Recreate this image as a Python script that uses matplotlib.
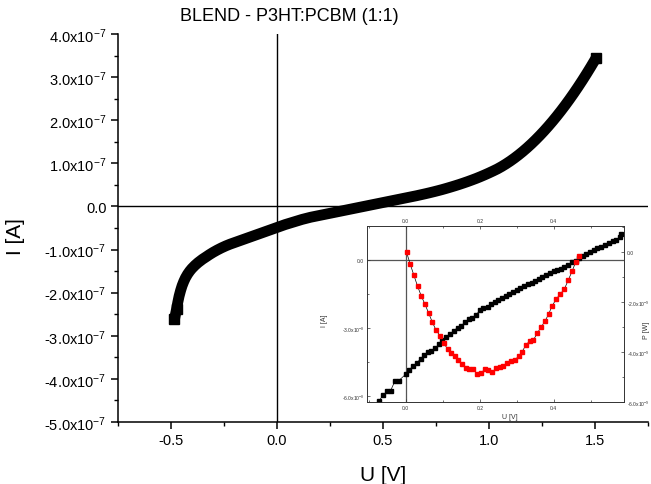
"""
I-V curve of a P3HT:PCBM blend with an inset of the power curve.
"""

import matplotlib
matplotlib.use("Agg")
import matplotlib.pyplot as plt
from matplotlib.ticker import FixedLocator, MultipleLocator

plt.rcParams.update({
    "font.family": ["Liberation Sans", "DejaVu Sans"],
    "mathtext.fontset": "custom",
    "mathtext.rm": "Liberation Sans",
    "mathtext.it": "Liberation Sans:italic",
    "mathtext.bf": "Liberation Sans:bold",
    "axes.linewidth": 1.1,
    "axes.edgecolor": "black",
})

# ─── main curve (U in V, I in units of 1e-7 A) ─────────────────────
U_MAIN = [-0.482, -0.472, -0.466, -0.460, -0.453, -0.446, -0.438, -0.430,
          -0.420, -0.410, -0.400, -0.385, -0.370, -0.350, -0.330, -0.318,
          -0.300, -0.280, -0.260, -0.240, -0.220, -0.200, -0.180, -0.160,
          -0.140, -0.120, -0.100, -0.080, -0.060, -0.040, -0.020, 0.000,
          0.020, 0.040, 0.060, 0.080, 0.100, 0.120, 0.140, 0.160, 0.180,
          0.200, 0.220, 0.240, 0.260, 0.280, 0.300, 0.320, 0.340, 0.360,
          0.380, 0.400, 0.420, 0.440, 0.460, 0.480, 0.500, 0.520, 0.540,
          0.560, 0.580, 0.600, 0.620, 0.640, 0.660, 0.680, 0.700, 0.720,
          0.740, 0.760, 0.780, 0.800, 0.820, 0.840, 0.860, 0.880, 0.900,
          0.920, 0.940, 0.960, 0.980, 1.000, 1.020, 1.040, 1.060, 1.080,
          1.100, 1.120, 1.140, 1.160, 1.180, 1.200, 1.220, 1.240, 1.260,
          1.280, 1.300, 1.320, 1.340, 1.360, 1.380, 1.400, 1.420, 1.440,
          1.460, 1.480, 1.500, 1.505]
I_MAIN = [-2.62, -2.38, -2.22, -2.08, -1.95, -1.84, -1.74, -1.655,
          -1.57, -1.50, -1.44, -1.365, -1.30, -1.225, -1.16, -1.12,
          -1.065, -1.01, -0.96, -0.915, -0.875, -0.84, -0.805, -0.77,
          -0.735, -0.70, -0.665, -0.63, -0.595, -0.56, -0.525, -0.49,
          -0.455, -0.42, -0.39, -0.36, -0.33, -0.30, -0.275, -0.25, -0.23,
          -0.21, -0.19, -0.17, -0.15, -0.13, -0.11, -0.09, -0.07, -0.05,
          -0.03, -0.01, 0.01, 0.03, 0.05, 0.07, 0.09, 0.11, 0.13,
          0.15, 0.17, 0.19, 0.21, 0.23, 0.25, 0.272, 0.294, 0.317,
          0.341, 0.366, 0.392, 0.42, 0.449, 0.479, 0.51, 0.543, 0.577,
          0.613, 0.65, 0.69, 0.732, 0.776, 0.822, 0.87, 0.925, 0.985,
          1.05, 1.12, 1.195, 1.275, 1.36, 1.45, 1.545, 1.645, 1.75,
          1.86, 1.975, 2.095, 2.22, 2.35, 2.485, 2.625, 2.77, 2.92,
          3.075, 3.235, 3.40, 3.44]

Y_TICKS = [-5, -4, -3, -2, -1, 0, 1, 2, 3, 4]
Y_TICK_LABELS = ["-5.0x10$^{-7}$", "-4.0x10$^{-7}$", "-3.0x10$^{-7}$",
                 "-2.0x10$^{-7}$", "-1.0x10$^{-7}$", "0.0",
                 "1.0x10$^{-7}$", "2.0x10$^{-7}$", "3.0x10$^{-7}$",
                 "4.0x10$^{-7}$"]
X_TICKS = [-0.5, 0.0, 0.5, 1.0, 1.5]
X_TICK_LABELS = ["-0.5", "0.0", "0.5", "1.0", "1.5"]

# ─── inset: I (units of 1e-8 A) and P (units of 1e-9 W) ────────────
U_INSET = [-0.072, -0.061, -0.050, -0.041, -0.030, -0.019, 0.000, 0.009,
           0.020, 0.029, 0.040, 0.050, 0.060, 0.069, 0.080, 0.090, 0.099,
           0.110, 0.120, 0.130, 0.140, 0.150, 0.160, 0.170, 0.180, 0.191,
           0.200, 0.210, 0.221, 0.231, 0.241, 0.250, 0.260, 0.270, 0.280,
           0.290, 0.300, 0.310, 0.320, 0.330, 0.340, 0.350, 0.359, 0.369,
           0.379, 0.389, 0.400, 0.409, 0.419, 0.429, 0.439, 0.450, 0.459,
           0.468, 0.478, 0.488, 0.498, 0.508, 0.518, 0.528, 0.538, 0.549,
           0.559, 0.568, 0.578, 0.583]
I_INSET = [-6.19, -5.94, -5.78, -5.75, -5.35, -5.31, -5.03, -4.83,
           -4.68, -4.54, -4.36, -4.18, -4.07, -3.99, -3.89, -3.70, -3.54,
           -3.41, -3.26, -3.12, -2.98, -2.90, -2.75, -2.60, -2.56, -2.43,
           -2.19, -2.14, -2.06, -1.95, -1.84, -1.76, -1.68, -1.61, -1.52,
           -1.43, -1.33, -1.24, -1.14, -1.07, -1.01, -0.92, -0.85, -0.78,
           -0.67, -0.59, -0.48, -0.44, -0.41, -0.32, -0.23, -0.12, -0.04,
           0.06, 0.15, 0.23, 0.32, 0.44, 0.50, 0.56, 0.64, 0.73,
           0.82, 0.88, 0.98, 1.13]

U_POWER = [0.002, 0.012, 0.022, 0.032, 0.042, 0.052, 0.062, 0.072, 0.082,
           0.093, 0.102, 0.113, 0.123, 0.132, 0.142, 0.152, 0.162, 0.172,
           0.182, 0.193, 0.203, 0.214, 0.223, 0.234, 0.244, 0.254, 0.264,
           0.274, 0.285, 0.295, 0.305, 0.314, 0.325, 0.335, 0.345, 0.356,
           0.366, 0.376, 0.386, 0.395, 0.407, 0.418, 0.429, 0.439, 0.450,
           0.459, 0.468]
P_POWER = [0.00, -0.48, -0.93, -1.37, -1.76, -2.09, -2.45, -2.81, -3.13,
           -3.36, -3.64, -3.87, -4.04, -4.17, -4.33, -4.48, -4.64, -4.69,
           -4.67, -4.88, -4.84, -4.69, -4.73, -4.81, -4.64, -4.61, -4.55,
           -4.44, -4.35, -4.31, -4.17, -4.00, -3.71, -3.56, -3.52, -3.23,
           -3.00, -2.77, -2.49, -2.17, -1.87, -1.67, -1.47, -1.13, -0.75,
           -0.41, -0.17]

INSET_X_TICKS = [0.0, 0.2, 0.4]
INSET_X_LABELS = ["0.0", "0.2", "0.4"]
INSET_I_TICKS = [0, -3, -6]
INSET_I_LABELS = ["0.0", "-3.0x10$^{-8}$", "-6.0x10$^{-8}$"]
INSET_P_TICKS = [0, -2, -4, -6]
INSET_P_LABELS = ["0.0", "-2.0x10$^{-9}$", "-4.0x10$^{-9}$",
                  "-6.0x10$^{-9}$"]

fig = plt.figure(figsize=(6.51, 4.85), dpi=100)

# ─── main axes ─────────────────────────────────────────────────────
ax = fig.add_axes([0.1806, 0.1278, 0.8148, 0.8])
i_amps = [i * 1e-7 for i in I_MAIN]
# dense symbols merge into one smooth band; only the ends show squares
ax.plot(U_MAIN, i_amps, color="black", lw=7.8,
        solid_joinstyle="round", solid_capstyle="butt",
        marker="s", markersize=6.6, markevery=[0, 1, len(U_MAIN) - 1],
        zorder=3)
ax.axhline(0, color="black", lw=1.0, zorder=2)
ax.axvline(0, color="black", lw=1.0, zorder=2)

ax.set_xlim(-0.75, 1.75)
ax.set_ylim(-5e-7, 4e-7)
ax.spines["top"].set_visible(False)
ax.spines["right"].set_visible(False)

ax.xaxis.set_major_locator(FixedLocator(X_TICKS))
ax.set_xticklabels(X_TICK_LABELS)
ax.xaxis.set_minor_locator(MultipleLocator(0.25))
ax.yaxis.set_major_locator(FixedLocator([t * 1e-7 for t in Y_TICKS]))
ax.set_yticklabels(Y_TICK_LABELS)
ax.yaxis.set_minor_locator(MultipleLocator(0.5e-7))
ax.tick_params(which="major", direction="out", length=5, width=1.1,
               labelsize=10.5, pad=3)
ax.tick_params(which="minor", direction="out", length=3, width=1.0)

fig.text(0.445, 0.966, "BLEND - P3HT:PCBM (1:1)", ha="center",
         va="center", fontsize=13)
fig.text(0.588, 0.020, "U [V]", ha="center", va="center", fontsize=15)
fig.text(0.024, 0.512, "I [A]", ha="center", va="center", fontsize=15,
         rotation=90)

# ─── inset ─────────────────────────────────────────────────────────
ins = fig.add_axes([0.5637, 0.1691, 0.3948, 0.3629])
ins.plot(U_INSET, I_INSET, color="black", lw=0.5, marker="s",
         markersize=2.6, zorder=3)
ins.axhline(0, color="#555555", lw=0.9, zorder=1)
ins.axvline(0, color="#555555", lw=0.9, zorder=1)
ins.set_xlim(-0.105, 0.59)
ins.set_ylim(-6.25, 1.48)

insp = ins.twinx()
insp.plot(U_POWER, P_POWER, color="black", lw=0.5, marker="s",
          markersize=3.0, markerfacecolor="red", markeredgecolor="red",
          zorder=3)
insp.set_ylim(-6.0, 1.05)

for a in (ins, insp):
    for spine in a.spines.values():
        spine.set_linewidth(0.6)
        spine.set_color("#333333")

ins.xaxis.set_major_locator(FixedLocator(INSET_X_TICKS))
ins.set_xticklabels(INSET_X_LABELS)
ins.xaxis.set_minor_locator(MultipleLocator(0.1))
ins.yaxis.set_major_locator(FixedLocator(INSET_I_TICKS))
ins.set_yticklabels(INSET_I_LABELS)
ins.yaxis.set_minor_locator(MultipleLocator(1.5))
ins.tick_params(which="both", direction="in", top=True, labeltop=True,
                labelsize=3.6, width=0.5, pad=2, colors="#333333")
ins.tick_params(which="major", length=2.5)
ins.tick_params(which="minor", length=1.5)

insp.yaxis.set_major_locator(FixedLocator(INSET_P_TICKS))
insp.set_yticklabels(INSET_P_LABELS)
insp.yaxis.set_minor_locator(MultipleLocator(1.0))
insp.tick_params(which="both", direction="in", labelsize=3.6, width=0.5,
                 pad=2, colors="#333333")
insp.tick_params(which="major", length=2.5)
insp.tick_params(which="minor", length=1.5)

ins.set_xlabel("U [V]", fontsize=5, color="#333333")
ins.xaxis.set_label_coords(0.556, -0.065)
ins.set_ylabel("I [A]", fontsize=5, color="#333333")
ins.yaxis.set_label_coords(-0.152, 0.47)
insp.set_ylabel("P [W]", fontsize=5, color="#333333")
insp.yaxis.set_label_coords(1.074, 0.415)

fig.savefig("out.png", dpi=100, facecolor="white")
